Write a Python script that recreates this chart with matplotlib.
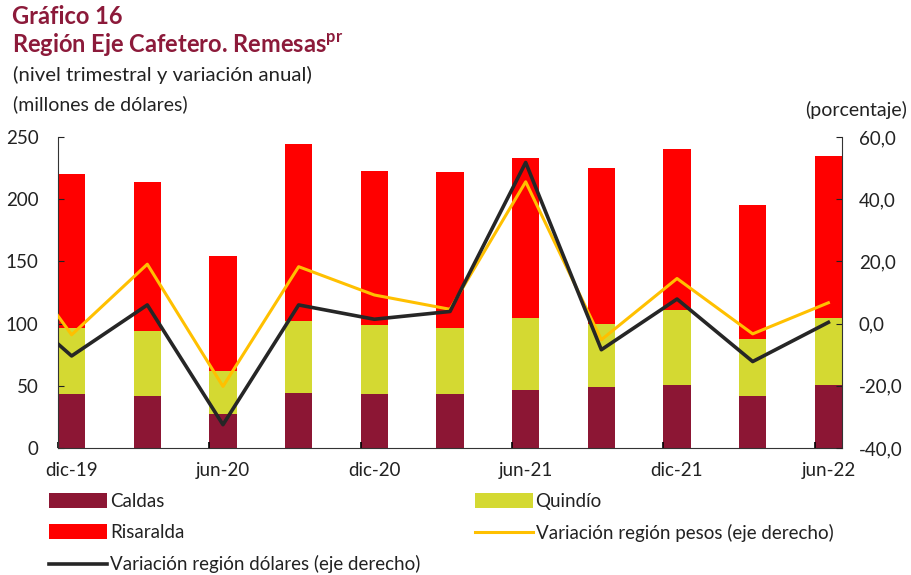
import matplotlib
matplotlib.use('Agg')
import matplotlib.pyplot as plt
import numpy as np

plt.rcParams['font.family'] = ['Lato', 'DejaVu Sans']

# trimestres (sep-19 solo sirve para que la linea entre desde el borde)
trimestres = ['sep-19', 'dic-19', 'mar-20', 'jun-20', 'sep-20', 'dic-20', 'mar-21',
              'jun-21', 'sep-21', 'dic-21', 'mar-22', 'jun-22']
etiquetas = ['dic-19', '', 'jun-20', '', 'dic-20', '', 'jun-21', '', 'dic-21', '', 'jun-22']

# millones de dolares, dic-19 a jun-22
caldas = [43.3, 41.4, 27.0, 44.1, 43.3, 43.3, 46.3, 48.7, 50.5, 42.2, 50.5]
quindio = [53.5, 52.5, 35.0, 58.0, 55.6, 53.5, 58.5, 51.3, 60.7, 45.2, 54.3]
risaralda = [123.3, 120.0, 92.0, 142.6, 124.1, 125.4, 128.6, 125.1, 129.2, 107.8, 129.7]

# variacion anual (%), sep-19 a jun-22
var_pesos = [30.0, -3.6, 19.1, -20.2, 18.3, 9.2, 4.6, 45.6, -5.2, 14.5, -3.3, 6.7]
var_dolares = [11.0, -10.4, 6.0, -32.5, 6.0, 1.4, 3.9, 51.8, -8.4, 7.9, -12.2, 0.4]

c_caldas = '#8C1634'
c_quindio = '#D4D932'
c_risaralda = '#FF0000'
c_pesos = '#FFC000'
c_dolares = '#262626'
c_titulo = '#8C1A3A'
c_texto = '#222222'

fig = plt.figure(figsize=(9.11, 5.75), dpi=100)
ax = fig.add_axes([58/911, (575-448)/575, (842-58)/911, (448-137)/575])

x = np.arange(len(caldas))
w = 0.36
b1 = ax.bar(x, caldas, w, color=c_caldas, label='Caldas')
base2 = np.array(caldas)
b2 = ax.bar(x, quindio, w, bottom=base2, color=c_quindio, label='Quindío')
base3 = base2 + np.array(quindio)
b3 = ax.bar(x, risaralda, w, bottom=base3, color=c_risaralda, label='Risaralda')

ax.set_ylim(0, 250)
ax.set_xlim(-w/2, len(caldas) - 1 + w/2)
ax.set_yticks([0, 50, 100, 150, 200, 250])
ax.set_xticks(x)
ax.set_xticklabels(etiquetas)
ax.set_xticks(x[::2] - w/2, minor=True)
ax.tick_params(axis='x', which='major', length=0, pad=10, labelsize=13.5, colors=c_texto)
ax.tick_params(axis='x', which='minor', direction='in', length=4, width=1.2)
ax.tick_params(axis='y', direction='in', length=4, labelsize=13.5, colors=c_texto, pad=14)
for s in ['top', 'right']:
    ax.spines[s].set_visible(False)
ax.spines['left'].set_color('#333333')
ax.spines['bottom'].set_color('#333333')

ax2 = ax.twinx()
xl = np.arange(-1, len(caldas))
l1, = ax2.plot(xl, var_pesos, color=c_pesos, lw=2.2, label='Variación región pesos (eje derecho)')
l2, = ax2.plot(xl, var_dolares, color=c_dolares, lw=2.6, label='Variación región dólares (eje derecho)')
ax2.set_ylim(-40, 60)
ax2.set_xlim(ax.get_xlim())
ax2.set_yticks([-40, -20, 0, 20, 40, 60])
ax2.set_yticklabels(['-40,0', '-20,0', '0,0', '20,0', '40,0', '60,0'])
ax2.tick_params(axis='y', direction='in', length=4, labelsize=13.5, colors=c_texto, pad=12)
for s in ['top', 'left', 'bottom']:
    ax2.spines[s].set_visible(False)
ax2.spines['right'].set_color('#333333')

fig.text(12/911, 1 - 17/575, 'Gráfico 16', fontsize=17, fontweight='bold', color=c_titulo, va='center')
fig.text(12/911, 1 - 45/575, 'Región Eje Cafetero. Remesas$^{\\mathregular{pr}}$', fontsize=17,
         fontweight='bold', color=c_titulo, va='center')
fig.text(13/911, 1 - 75/575, '(nivel trimestral y variación anual)', fontsize=14.7, color=c_texto, va='center')
fig.text(13/911, 1 - 104/575, '(millones de dólares)', fontsize=14, color=c_texto, va='center')
fig.text(907/911, 1 - 110/575, '(porcentaje)', fontsize=14, color=c_texto, va='center', ha='right')

handles = [b1, b3, l2, b2, l1]
labels = [h.get_label() for h in handles]
fig.legend(handles, labels, ncol=2, loc='upper left', bbox_to_anchor=(32/911, 1 - 476/575),
           frameon=False, fontsize=13.5, handlelength=3.1, handleheight=0.8, handletextpad=0.15,
           columnspacing=2.9, labelspacing=0.76, labelcolor=c_texto)

fig.savefig('out.png', dpi=100)
